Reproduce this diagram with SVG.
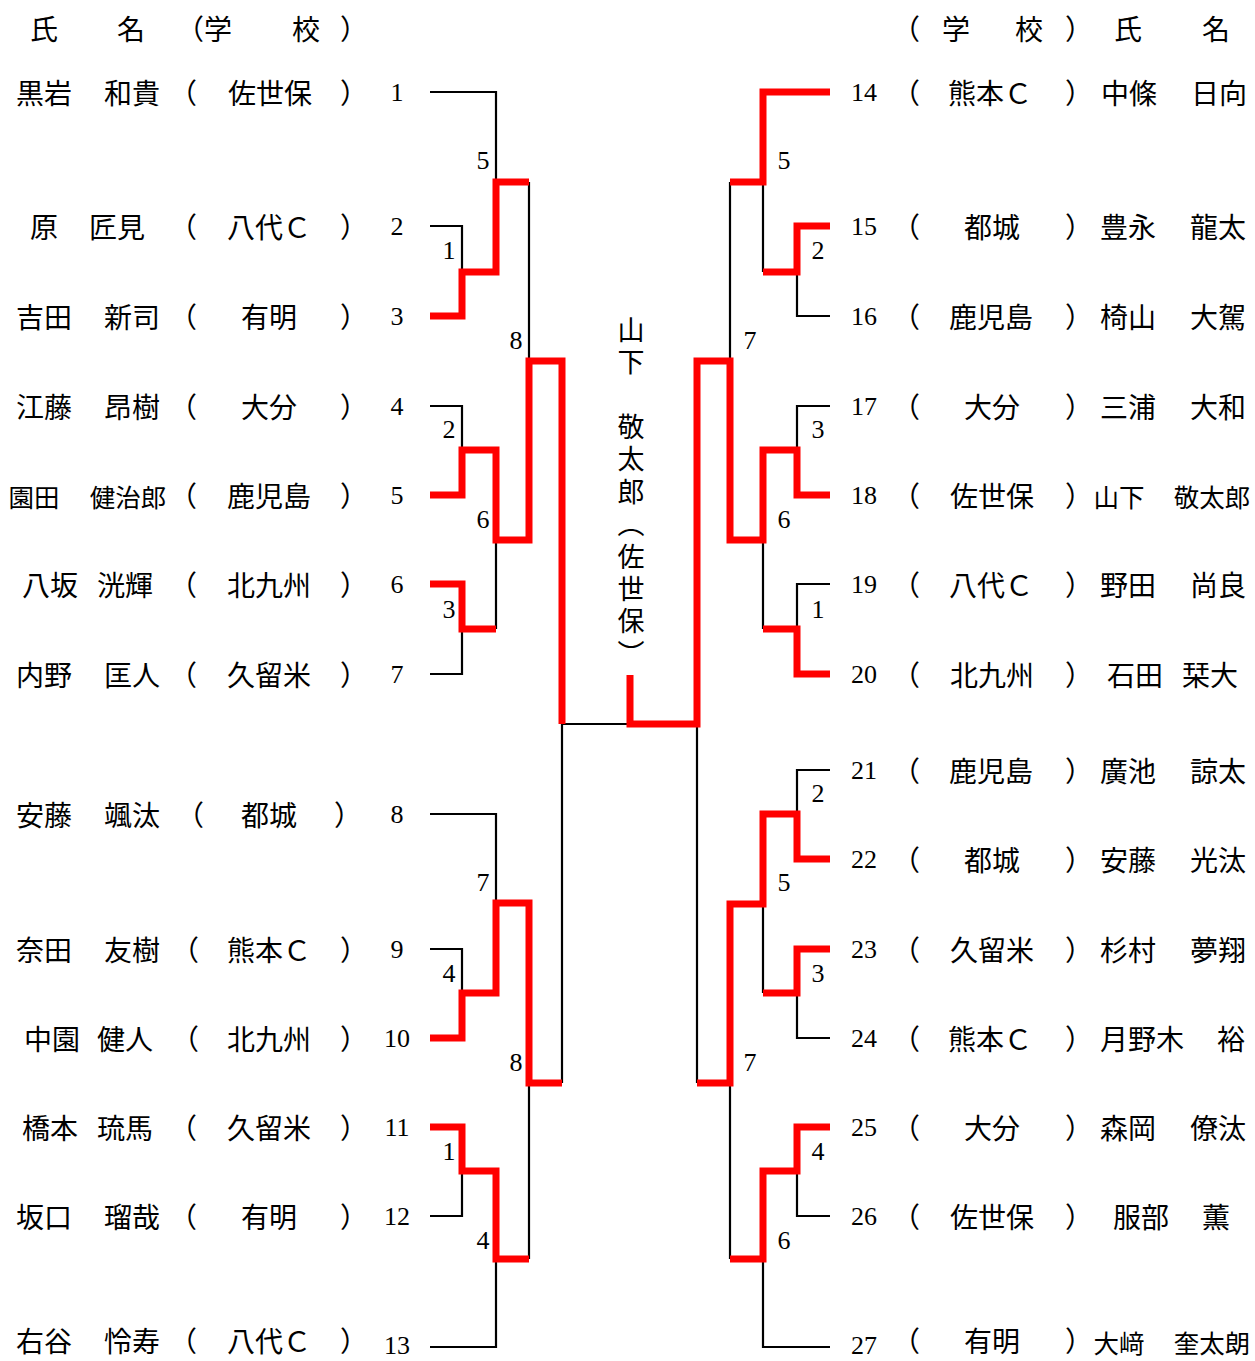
<svg xmlns="http://www.w3.org/2000/svg" width="1255" height="1361" viewBox="0 0 1255 1361">
<style>
text{fill:#000;dominant-baseline:central;text-anchor:middle}
.c{font-family:"Noto Sans CJK JP",sans-serif;font-size:28px}
.s{font-family:"Noto Sans CJK JP",sans-serif;font-size:25.5px}
.n{font-family:"Liberation Serif","Noto Sans CJK JP",serif;font-size:26px}
.v{font-family:"Noto Sans CJK JP",sans-serif;font-size:27px;writing-mode:vertical-rl;text-anchor:start;letter-spacing:5.4px}
.b{fill:none;stroke:#000;stroke-width:2.2}
.r{fill:none;stroke:#ff0000;stroke-width:7;stroke-linejoin:miter;stroke-linecap:butt}
</style>
<rect width="1255" height="1361" fill="#fff"/>

<g id="header-left">
<text class="c" x="44" y="28">氏</text><text class="c" x="131" y="28">名</text>
<text class="c" x="190" y="28">（</text><text class="c" x="218" y="28">学</text>
<text class="c" x="306" y="28">校</text><text class="c" x="354" y="28">）</text>
</g>
<g id="header-right">
<text class="c" x="906" y="28">（</text><text class="c" x="956" y="28">学</text>
<text class="c" x="1029" y="28">校</text><text class="c" x="1079" y="28">）</text>
<text class="c" x="1128" y="28">氏</text><text class="c" x="1216" y="28">名</text>
</g>

<g id="connectors">
<path class="b" d="M430 92H496V272M496 182H529M430 226H462V316H430M462 272H496M430 406H462V495H430M462 450H496M430 584H462V674H430M462 629H496M496 450V629M496 540H529M529 182V540M529 361H562M430 814H496V993M430 949H462V1038H430M462 993H496M496 903H529M430 1127H462V1216H430M462 1171H496M430 1347H496V1171M496 1259H529M529 903V1259M529 1083H562M562 361V1083M562 724H697"/>
<path class="b" d="M830 92H763V272M763 182H730M830 226H797V316H830M797 272H763M830 406H797V495H830M797 450H763M830 584H797V674H830M797 629H763M763 450V629M763 540H730M730 182V540M730 361H697M830 770H797V859H830M797 814H763M830 949H797V1038H830M797 993H763M763 814V993M763 904H730M830 1127H797V1216H830M797 1171H763M830 1347H763V1171M763 1259H730M730 904V1259M730 1083H697M697 361V1083"/>
<path class="r" d="M430 316H462V272H496V182H529"/>
<path class="r" d="M430 495H462V450H496V540H529V361H562V724"/>
<path class="r" d="M430 584H462V629H496"/>
<path class="r" d="M430 1038H462V993H496V903H529V1083H562"/>
<path class="r" d="M430 1127H462V1171H496V1259H529"/>
<path class="r" d="M830 92H763V182H730"/>
<path class="r" d="M830 226H797V272H763"/>
<path class="r" d="M830 495H797V450H763V540H730V361H697V724H630V675"/>
<path class="r" d="M830 674H797V629H763"/>
<path class="r" d="M830 859H797V814H763V904H730V1083H697"/>
<path class="r" d="M830 949H797V993H763"/>
<path class="r" d="M830 1127H797V1171H763V1259H730"/>
</g>

<g id="scores">
<text class="n" x="483" y="160">5</text><text class="n" x="449" y="250">1</text>
<text class="n" x="516" y="340">8</text><text class="n" x="449" y="429">2</text>
<text class="n" x="483" y="519">6</text><text class="n" x="449" y="609">3</text>
<text class="n" x="483" y="882">7</text><text class="n" x="449" y="973">4</text>
<text class="n" x="516" y="1062">8</text><text class="n" x="449" y="1151">1</text>
<text class="n" x="483" y="1240">4</text>
<text class="n" x="784" y="160">5</text><text class="n" x="818" y="250">2</text>
<text class="n" x="750" y="340">7</text><text class="n" x="818" y="429">3</text>
<text class="n" x="784" y="519">6</text><text class="n" x="818" y="609">1</text>
<text class="n" x="818" y="793">2</text><text class="n" x="784" y="882">5</text>
<text class="n" x="818" y="973">3</text><text class="n" x="750" y="1062">7</text>
<text class="n" x="818" y="1151">4</text><text class="n" x="784" y="1240">6</text>
</g>

<g id="champion">
<text class="v" x="631" y="316">山下　敬太郎（佐世保）</text>
</g>

<g id="p1"><text class="c" x="44" y="92">黒岩</text><text class="c" x="132" y="92">和貴</text><text class="c" x="183" y="92">（</text><text class="c" x="270" y="92">佐世保</text><text class="c" x="354" y="92">）</text><text class="n" x="397" y="92">1</text></g>
<g id="p2"><text class="c" x="44" y="226">原</text><text class="c" x="117" y="226">匠見</text><text class="c" x="183" y="226">（</text><text class="c" x="269" y="226">八代Ｃ</text><text class="c" x="354" y="226">）</text><text class="n" x="397" y="226">2</text></g>
<g id="p3"><text class="c" x="44" y="316">吉田</text><text class="c" x="132" y="316">新司</text><text class="c" x="183" y="316">（</text><text class="c" x="269" y="316">有明</text><text class="c" x="354" y="316">）</text><text class="n" x="397" y="316">3</text></g>
<g id="p4"><text class="c" x="44" y="406">江藤</text><text class="c" x="132" y="406">昂樹</text><text class="c" x="183" y="406">（</text><text class="c" x="269" y="406">大分</text><text class="c" x="354" y="406">）</text><text class="n" x="397" y="406">4</text></g>
<g id="p5"><text class="s" x="34" y="495">園田</text><text class="s" x="128" y="495">健治郎</text><text class="c" x="183" y="495">（</text><text class="c" x="269" y="495">鹿児島</text><text class="c" x="354" y="495">）</text><text class="n" x="397" y="495">5</text></g>
<g id="p6"><text class="c" x="50" y="584">八坂</text><text class="c" x="125" y="584">洸輝</text><text class="c" x="183" y="584">（</text><text class="c" x="269" y="584">北九州</text><text class="c" x="354" y="584">）</text><text class="n" x="397" y="584">6</text></g>
<g id="p7"><text class="c" x="44" y="674">内野</text><text class="c" x="132" y="674">匡人</text><text class="c" x="183" y="674">（</text><text class="c" x="269" y="674">久留米</text><text class="c" x="354" y="674">）</text><text class="n" x="397" y="674">7</text></g>
<g id="p8"><text class="c" x="44" y="814">安藤</text><text class="c" x="132" y="814">颯汰</text><text class="c" x="190" y="814">（</text><text class="c" x="269" y="814">都城</text><text class="c" x="348" y="814">）</text><text class="n" x="397" y="814">8</text></g>
<g id="p9"><text class="c" x="44" y="949">奈田</text><text class="c" x="132" y="949">友樹</text><text class="c" x="185" y="949">（</text><text class="c" x="269" y="949">熊本Ｃ</text><text class="c" x="354" y="949">）</text><text class="n" x="397" y="949">9</text></g>
<g id="p10"><text class="c" x="52" y="1038">中園</text><text class="c" x="125" y="1038">健人</text><text class="c" x="185" y="1038">（</text><text class="c" x="269" y="1038">北九州</text><text class="c" x="354" y="1038">）</text><text class="n" x="397" y="1038">10</text></g>
<g id="p11"><text class="c" x="50" y="1127">橋本</text><text class="c" x="125" y="1127">琉馬</text><text class="c" x="183" y="1127">（</text><text class="c" x="269" y="1127">久留米</text><text class="c" x="354" y="1127">）</text><text class="n" x="397" y="1127">11</text></g>
<g id="p12"><text class="c" x="44" y="1216">坂口</text><text class="c" x="132" y="1216">瑠哉</text><text class="c" x="183" y="1216">（</text><text class="c" x="269" y="1216">有明</text><text class="c" x="354" y="1216">）</text><text class="n" x="397" y="1216">12</text></g>
<g id="p13"><text class="c" x="44" y="1340">右谷</text><text class="c" x="132" y="1340">怜寿</text><text class="c" x="183" y="1340">（</text><text class="c" x="269" y="1340">八代Ｃ</text><text class="c" x="354" y="1340">）</text><text class="n" x="397" y="1345">13</text></g>

<g id="p14"><text class="n" x="864" y="92">14</text><text class="c" x="906" y="92">（</text><text class="c" x="990" y="92">熊本Ｃ</text><text class="c" x="1079" y="92">）</text><text class="c" x="1129" y="92">中條</text><text class="c" x="1219" y="92">日向</text></g>
<g id="p15"><text class="n" x="864" y="226">15</text><text class="c" x="906" y="226">（</text><text class="c" x="992" y="226">都城</text><text class="c" x="1079" y="226">）</text><text class="c" x="1128" y="226">豊永</text><text class="c" x="1218" y="226">龍太</text></g>
<g id="p16"><text class="n" x="864" y="316">16</text><text class="c" x="906" y="316">（</text><text class="c" x="991" y="316">鹿児島</text><text class="c" x="1079" y="316">）</text><text class="c" x="1128" y="316">椅山</text><text class="c" x="1218" y="316">大駕</text></g>
<g id="p17"><text class="n" x="864" y="406">17</text><text class="c" x="906" y="406">（</text><text class="c" x="992" y="406">大分</text><text class="c" x="1079" y="406">）</text><text class="c" x="1128" y="406">三浦</text><text class="c" x="1218" y="406">大和</text></g>
<g id="p18"><text class="n" x="864" y="495">18</text><text class="c" x="906" y="495">（</text><text class="c" x="992" y="495">佐世保</text><text class="c" x="1079" y="495">）</text><text class="s" x="1119" y="495">山下</text><text class="s" x="1212" y="495">敬太郎</text></g>
<g id="p19"><text class="n" x="864" y="584">19</text><text class="c" x="906" y="584">（</text><text class="c" x="991" y="584">八代Ｃ</text><text class="c" x="1079" y="584">）</text><text class="c" x="1128" y="584">野田</text><text class="c" x="1218" y="584">尚良</text></g>
<g id="p20"><text class="n" x="864" y="674">20</text><text class="c" x="906" y="674">（</text><text class="c" x="992" y="674">北九州</text><text class="c" x="1079" y="674">）</text><text class="c" x="1135" y="674">石田</text><text class="c" x="1210" y="674">栞大</text></g>
<g id="p21"><text class="n" x="864" y="770">21</text><text class="c" x="906" y="770">（</text><text class="c" x="991" y="770">鹿児島</text><text class="c" x="1079" y="770">）</text><text class="c" x="1128" y="770">廣池</text><text class="c" x="1218" y="770">諒太</text></g>
<g id="p22"><text class="n" x="864" y="859">22</text><text class="c" x="906" y="859">（</text><text class="c" x="992" y="859">都城</text><text class="c" x="1079" y="859">）</text><text class="c" x="1128" y="859">安藤</text><text class="c" x="1218" y="859">光汰</text></g>
<g id="p23"><text class="n" x="864" y="949">23</text><text class="c" x="906" y="949">（</text><text class="c" x="992" y="949">久留米</text><text class="c" x="1079" y="949">）</text><text class="c" x="1128" y="949">杉村</text><text class="c" x="1218" y="949">夢翔</text></g>
<g id="p24"><text class="n" x="864" y="1038">24</text><text class="c" x="906" y="1038">（</text><text class="c" x="990" y="1038">熊本Ｃ</text><text class="c" x="1079" y="1038">）</text><text class="c" x="1142" y="1038">月野木</text><text class="c" x="1231" y="1038">裕</text></g>
<g id="p25"><text class="n" x="864" y="1127">25</text><text class="c" x="906" y="1127">（</text><text class="c" x="992" y="1127">大分</text><text class="c" x="1079" y="1127">）</text><text class="c" x="1128" y="1127">森岡</text><text class="c" x="1218" y="1127">僚汰</text></g>
<g id="p26"><text class="n" x="864" y="1216">26</text><text class="c" x="906" y="1216">（</text><text class="c" x="992" y="1216">佐世保</text><text class="c" x="1079" y="1216">）</text><text class="c" x="1141" y="1216">服部</text><text class="c" x="1216" y="1216">薫</text></g>
<g id="p27"><text class="n" x="864" y="1345">27</text><text class="c" x="906" y="1340">（</text><text class="c" x="992" y="1340">有明</text><text class="c" x="1079" y="1340">）</text><text class="s" x="1119" y="1341">大﨑</text><text class="s" x="1212" y="1341">奎太朗</text></g>
</svg>
